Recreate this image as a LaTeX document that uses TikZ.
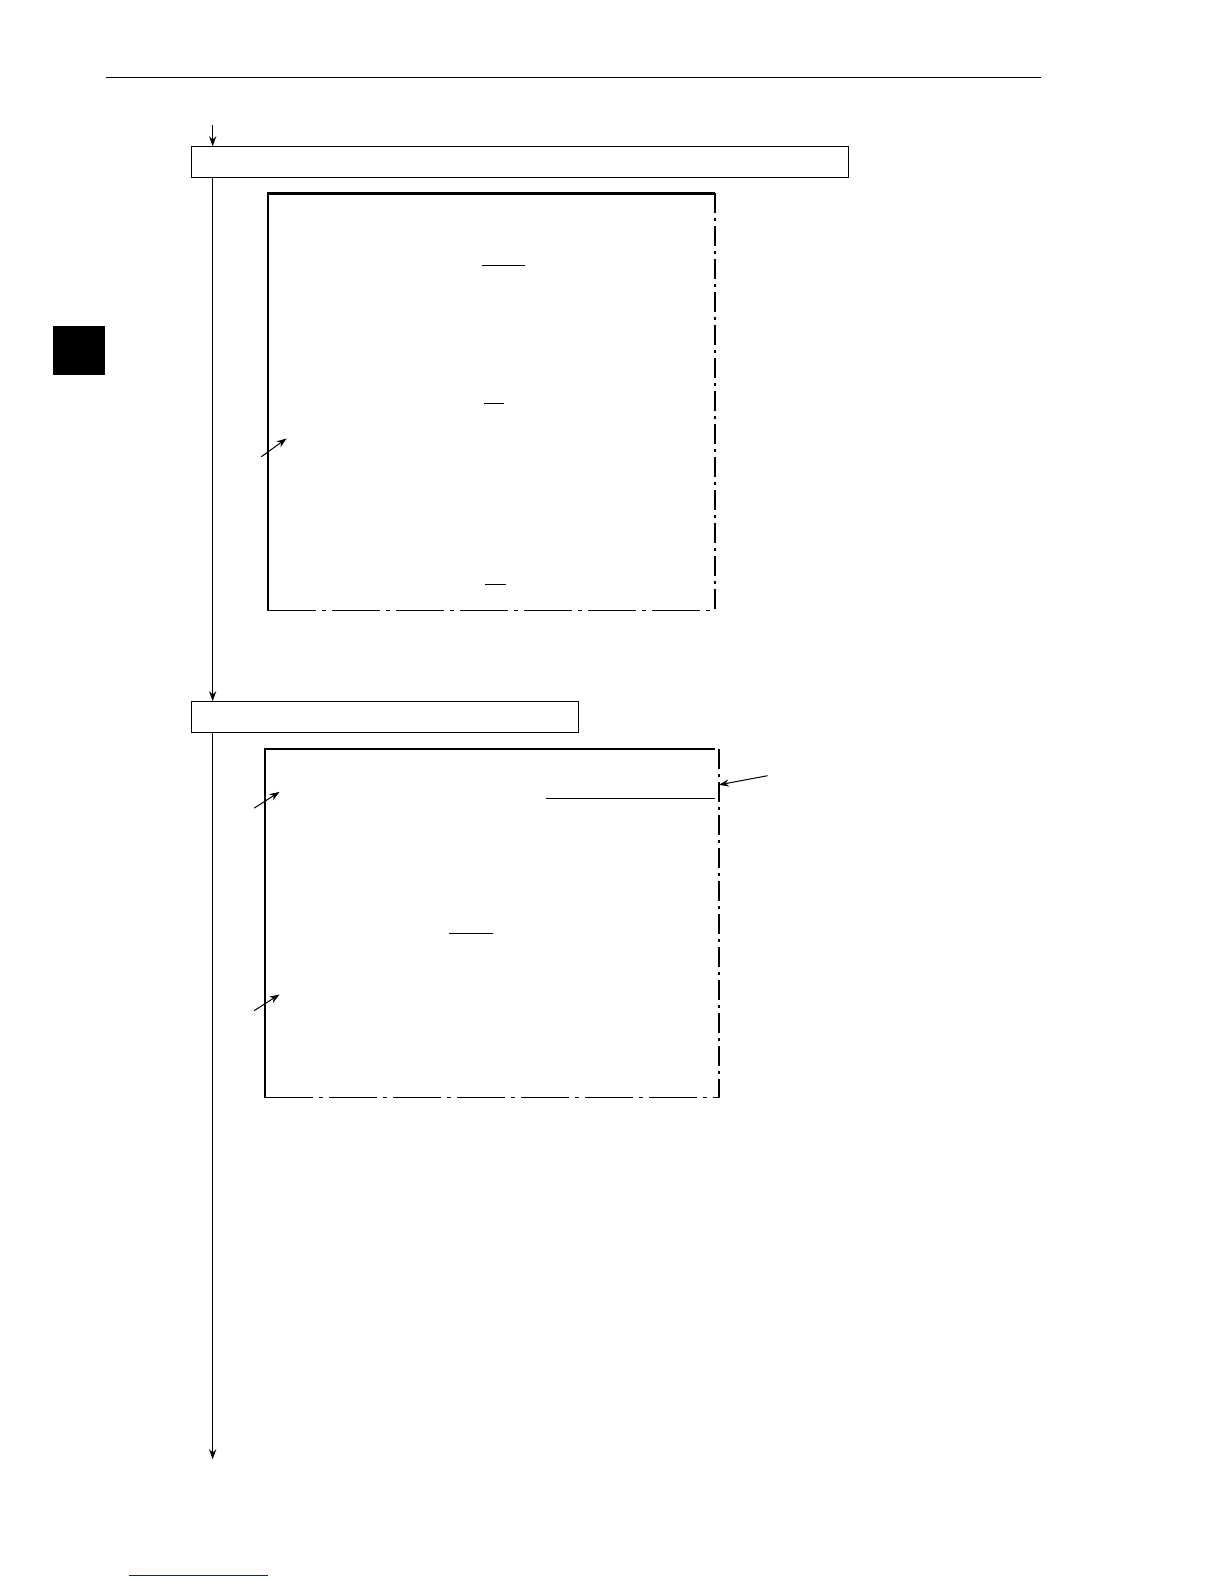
\documentclass[tikz,border=0pt]{standalone}
\usetikzlibrary{arrows.meta,positioning}
\definecolor{linkblue}{RGB}{25,25,140}
\tikzset{
  stepbox/.style={draw,line width=0.6pt,minimum height=15.2pt,inner sep=0pt},
  flow/.style={line width=0.5pt,-{Stealth[length=5pt,width=3.6pt]}},
  pointer/.style={line width=0.5pt,-{Stealth[length=5pt,width=3.6pt]}},
  frameside/.style={line width=1.1pt},
  frameopen/.style={line width=0.6pt,dash pattern=on 24pt off 3pt on 2pt off 3pt},
  frameright/.style={line width=0.6pt,dash pattern=on 10pt off 2.5pt on 1.5pt off 2.5pt},
  mark line/.style={line width=0.5pt}
}
\begin{document}
\begin{tikzpicture}[x=0.5063pt,y=-0.5063pt]
  \useasboundingbox (0,0) rectangle (1208.7,1564.2);

  % page rule and tab
  \draw[line width=0.5pt] (105,77) -- (1028,77);
  \fill (52,322) rectangle (104,370);
  \draw[linkblue,line width=0.7pt] (127,1556) -- (265,1556);

  % steps
  \node[stepbox,minimum width=328.5pt] (stepA) at (513.5,160) {};
  \node[stepbox,minimum width=193.4pt] (stepB) at (380,708) {};
  \coordinate (flowin) at (210,123);
  \coordinate (flowout) at (210,1441);

  \draw[flow] (flowin) -- (flowin |- stepA.north);
  \draw[flow] (stepA.south -| flowin) -- (stepB.north -| flowin);
  \draw[flow] (stepB.south -| flowin) -- (flowout);

  % first screen
  \draw[frameside] (265,603) -- (265,191) -- (706,191);
  \draw[frameright] (706,191) -- (706,603);
  \draw[frameopen] (265,603) -- (706,603);

  % second screen
  \draw[frameside] (262,1084) -- (262,740) -- (706,740);
  \draw[frameright] (710,740) -- (710,1084);
  \draw[frameopen] (262,1084) -- (710,1084);

  % underlines
  \def \Marks {
    476/518/262,
    478/498/398,
    479/500/577,
    539/706/789,
    443/487/922}
  \foreach \xa / \xb / \y in \Marks {
    \draw[mark line] (\xa,\y) -- (\xb,\y);
  }

  % pointers
  \def \Pointers {
    p1/258/451/283/433,
    p2/251/798/276/782,
    p3/251/998/276/982,
    p4/758/766/710/775}
  \foreach \id / \xa / \ya / \xb / \yb in \Pointers {
    \coordinate (\id tail) at (\xa,\ya);
    \coordinate (\id head) at (\xb,\yb);
    \draw[pointer] (\id tail) -- (\id head);
  }
\end{tikzpicture}
\end{document}
